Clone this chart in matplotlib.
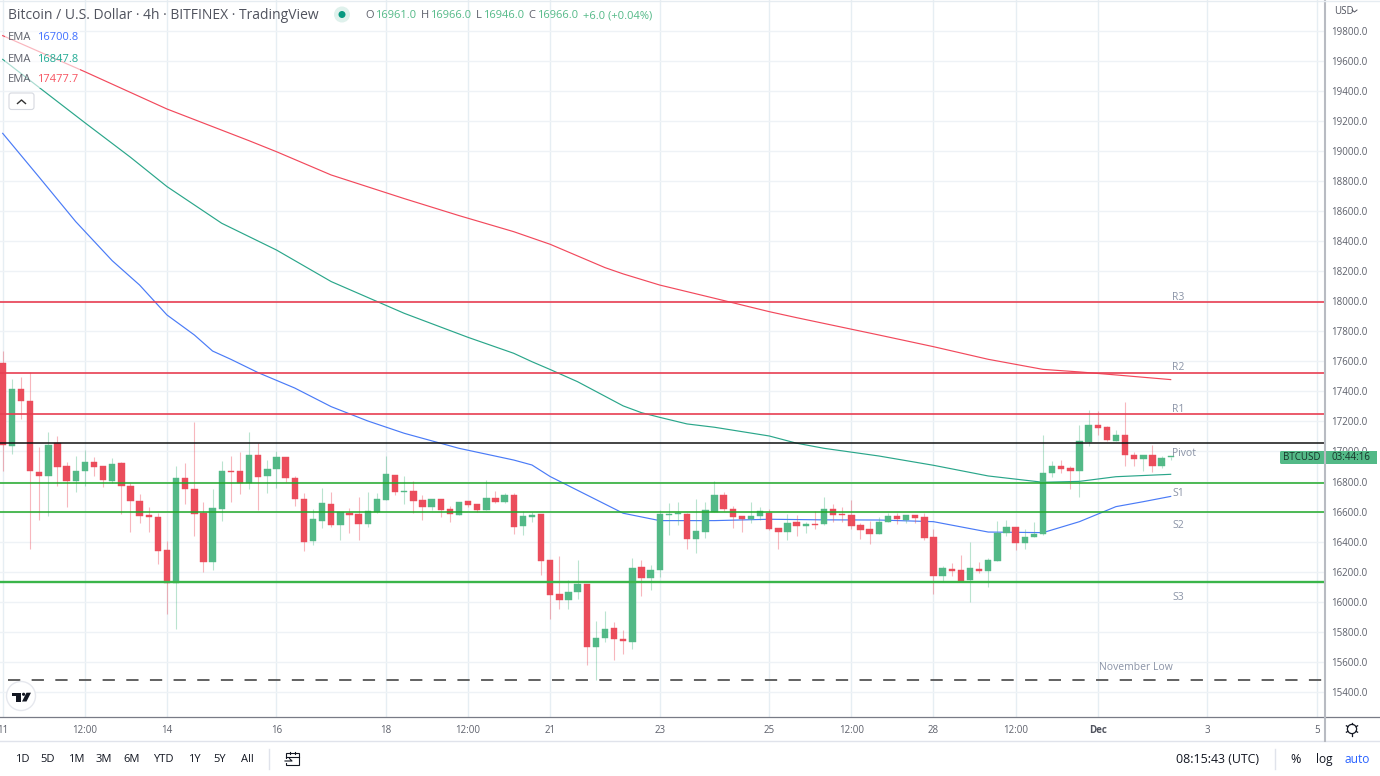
import matplotlib
matplotlib.use('Agg')
import matplotlib.pyplot as plt
from matplotlib.patches import Circle, FancyBboxPatch, Polygon, Rectangle

plt.rcParams['font.family'] = ['Open Sans', 'DejaVu Sans']

# candles, 4h bars
opens = [17586, 17039, 17413, 17336, 16864, 16839, 17056, 16906, 16806, 16872, 16930, 16901, 16806, 16923, 16770, 16671,
         16578, 16562, 16343, 16123, 16821, 16753, 16593, 16263, 16620, 16870, 16872, 16788, 16977, 16835, 16883, 16963,
         16824, 16686, 16405, 16540, 16651, 16511, 16593, 16584, 16520, 16595, 16677, 16846, 16730, 16739, 16677, 16628,
         16682, 16615, 16577, 16668, 16648, 16611, 16691, 16664, 16710, 16504, 16566, 16582, 16276, 16054, 16012, 16065,
         16119, 15702, 15759, 15824, 15751, 15735, 16232, 16156, 16212, 16580, 16582, 16584, 16418, 16467, 16595, 16710,
         16617, 16571, 16549, 16568, 16593, 16491, 16462, 16531, 16504, 16520, 16515, 16617, 16584, 16577, 16511, 16484,
         16451, 16529, 16571, 16544, 16577, 16562, 16431, 16172, 16218, 16209, 16145, 16218, 16207, 16274, 16460, 16495,
         16393, 16433, 16449, 16857, 16906, 16888, 16872, 17061, 17178, 17161, 17072, 17107, 16977, 16950, 16977, 16901,
         16961]
highs = [17671, 17480, 17498, 17531, 17032, 17130, 17103, 16930, 16970, 17010, 16966, 16903, 16957, 16930, 16793, 16717,
         16629, 16593, 16405, 16906, 16926, 17196, 16662, 16753, 16939, 16970, 16997, 17130, 17054, 16943, 17003, 16966,
         16837, 16722, 16620, 16755, 16733, 16595, 16622, 16699, 16730, 16722, 16970, 16846, 16837, 16801, 16708, 16682,
         16682, 16637, 16664, 16673, 16648, 16810, 16737, 16726, 16722, 16602, 16595, 16584, 16278, 16305, 16145, 16278,
         16119, 15870, 15939, 15866, 15813, 16292, 16278, 16243, 16611, 16655, 16664, 16588, 16682, 16664, 16804, 16730,
         16637, 16571, 16666, 16628, 16615, 16491, 16582, 16577, 16533, 16602, 16695, 16650, 16633, 16677, 16522, 16535,
         16562, 16593, 16593, 16577, 16577, 16593, 16482, 16238, 16260, 16311, 16396, 16267, 16289, 16538, 16544, 16495,
         16482, 16533, 17110, 16937, 16941, 16906, 17176, 17276, 17269, 17169, 17143, 17331, 16994, 16977, 17041, 16972,
         16966]
lows = [16872, 16983, 17216, 16351, 16544, 16571, 16773, 16633, 16731, 16773, 16837, 16766, 16788, 16584, 16464, 16527,
        16464, 16252, 15917, 15817, 16649, 16438, 16198, 16212, 16538, 16664, 16717, 16748, 16611, 16726, 16757, 16795,
        16637, 16340, 16380, 16491, 16495, 16411, 16460, 16411, 16500, 16593, 16677, 16713, 16651, 16593, 16544, 16611,
        16562, 16533, 16575, 16628, 16597, 16611, 16660, 16660, 16451, 16444, 16531, 16178, 15888, 15950, 15950, 16017,
        15582, 15480, 15733, 15613, 15653, 15686, 16039, 16079, 16167, 16444, 16511, 16351, 16322, 16424, 16595, 16606,
        16491, 16462, 16522, 16544, 16478, 16351, 16411, 16440, 16455, 16482, 16513, 16533, 16533, 16482, 16418, 16384,
        16451, 16529, 16517, 16526, 16526, 16411, 16052, 16132, 16172, 16134, 15997, 16194, 16101, 16274, 16438, 16345,
        16351, 16433, 16444, 16828, 16859, 16748, 16700, 17036, 17110, 17072, 17072, 16903, 16906, 16870, 16864, 16890,
        16946]
closes = [17043, 17416, 17336, 16870, 16837, 17043, 16899, 16806, 16872, 16930, 16897, 16810, 16919, 16773, 16673, 16573,
          16564, 16340, 16123, 16821, 16750, 16582, 16263, 16624, 16872, 16864, 16788, 16977, 16833, 16883, 16963, 16821,
          16686, 16400, 16549, 16655, 16509, 16595, 16580, 16520, 16602, 16682, 16850, 16730, 16737, 16671, 16628, 16682,
          16611, 16582, 16664, 16644, 16611, 16691, 16664, 16710, 16500, 16571, 16575, 16274, 16045, 16012, 16065, 16119,
          15702, 15757, 15819, 15753, 15740, 16227, 16156, 16212, 16582, 16584, 16593, 16416, 16471, 16611, 16710, 16615,
          16566, 16549, 16571, 16602, 16484, 16462, 16522, 16504, 16517, 16513, 16617, 16580, 16577, 16504, 16478, 16451,
          16533, 16571, 16549, 16577, 16557, 16427, 16172, 16223, 16205, 16141, 16223, 16205, 16278, 16460, 16495, 16393,
          16433, 16449, 16857, 16906, 16886, 16872, 17070, 17178, 17156, 17074, 17107, 16974, 16950, 16977, 16901, 16959,
          16966]

ema_red_idx = [0, 9, 18, 27, 30, 36, 44, 50, 56, 60, 66, 68, 72, 78, 84, 87, 96, 102, 108, 114, 118, 122, 128]
ema_red = [19766, 19526, 19278, 19067, 18994, 18839, 18682, 18569, 18462, 18378, 18223, 18181, 18107, 18019, 17930, 17890,
           17775, 17697, 17613, 17546, 17529, 17509, 17478]
ema_green_idx = [0, 9, 14, 18, 24, 30, 36, 44, 51, 56, 58, 60, 63, 68, 70, 72, 75, 78, 84, 87, 90, 96, 102, 108, 114, 118, 122, 128]
ema_green = [19608, 19187, 18957, 18762, 18518, 18340, 18130, 17919, 17759, 17653, 17597, 17545, 17464, 17303, 17258, 17227,
             17183, 17161, 17103, 17055, 17021, 16970, 16908, 16837, 16795, 16801, 16832, 16848]
ema_blue_idx = [0, 4, 8, 12, 15, 18, 21, 23, 25, 28, 32, 36, 40, 44, 50, 56, 58, 60, 64, 68, 72, 78, 84, 90, 96, 102, 108, 114, 118, 122, 125, 128]
ema_blue = [19116, 18824, 18529, 18269, 18107, 17908, 17775, 17668, 17613, 17524, 17422, 17298, 17203, 17121, 17021, 16943,
            16910, 16833, 16711, 16589, 16540, 16540, 16549, 16545, 16544, 16533, 16464, 16460, 16533, 16633, 16666, 16701]

# pivot levels
level_r3 = 17991
level_r2 = 17522
level_r1 = 17251
level_pivot = 17059
level_s1 = 16790
level_s2 = 16598
level_s3 = 16132
november_low = 15483

price_ticks = list(range(15400, 20000, 200))
time_tick_idx = [0, 9, 18, 30, 42, 51, 60, 72, 84, 93, 102, 111, 120, 132, 144]
time_tick_labels = ['11', '12:00', '14', '16', '18', '12:00', '21', '23', '25', '12:00', '28', '12:00', 'Dec', '3', '5']

W, H = 1380, 776
UP = '#53b987'
DOWN = '#eb4d5c'
GREY = '#5d606b'
LABEL = '#8a93a6'

fig = plt.figure(figsize=(W / 100, H / 100), dpi=100, facecolor='white')

# main pane, 1325 wide and down to y=716
ax = fig.add_axes([0, (H - 716.5) / H, 1325 / W, 716.5 / H])
ax.set_xlim(-0.296, 144.91)
ax.set_ylim(15237, 20003)
for s in ax.spines.values():
    s.set_visible(False)
ax.yaxis.tick_right()
ax.set_yticks(price_ticks)
ax.set_yticklabels(['%.1f' % p for p in price_ticks])
ax.set_xticks(time_tick_idx)
ax.set_xticklabels(time_tick_labels)
ax.tick_params(axis='both', length=0, labelsize=7, labelcolor=GREY)
ax.tick_params(axis='y', pad=4.4)
ax.tick_params(axis='x', pad=5.8)
ax.get_xticklabels()[12].set_fontweight('bold')
ax.get_xticklabels()[12].set_color('#50535e')
ax.grid(axis='y', color='#eef2f6', lw=1, zorder=0)
ax.grid(axis='x', color='#e6eef3', lw=1, zorder=0)
ax.set_axisbelow(True)

# ema lines first, candles and levels on top
ax.plot(ema_blue_idx, ema_blue, color='#4a7bf7', lw=0.85, zorder=2)
ax.plot(ema_green_idx, ema_green, color='#2aa68a', lw=0.85, zorder=2)
ax.plot(ema_red_idx, ema_red, color='#f2495c', lw=0.85, zorder=2)

for i in range(len(opens)):
    col = UP if closes[i] >= opens[i] else DOWN
    ax.vlines(i, lows[i], highs[i], color=col, lw=0.8, alpha=0.4, zorder=3)
    top = max(opens[i], closes[i])
    bot = min(opens[i], closes[i])
    ax.bar(i, max(top - bot, 6), bottom=bot, width=0.7, color=col, edgecolor=col, lw=0.3, zorder=4)

ax.axhline(level_r3, color='#e83e52', lw=1.2, zorder=5)
ax.axhline(level_r2, color='#e83e52', lw=1.2, zorder=5)
ax.axhline(level_r1, color='#e83e52', lw=1.2, zorder=5)
ax.axhline(level_pivot, color='#111111', lw=1.1, zorder=5)
ax.axhline(level_s1, color='#1fa828', lw=1.1, zorder=5)
ax.axhline(level_s2, color='#1fa828', lw=1.1, zorder=5)
ax.axhline(level_s3, color='#3ab54a', lw=1.7, zorder=5)
ax.plot([0.6, 144.91], [november_low, november_low], color='#555555', lw=1.3, dashes=(6.8, 6.3), zorder=5)

# everything else is window chrome, in screen pixels
ui = fig.add_axes([0, 0, 1, 1], facecolor='none')
ui.set_xlim(0, W)
ui.set_ylim(H, 0)
ui.axis('off')

ui.plot([0, W], [716.5, 716.5], color='#787b86', lw=0.9)
ui.plot([0, W], [741, 741], color='#e0e3eb', lw=1)
ui.plot([1325, 1325], [0, 741], color='#b8bbc2', lw=1.5)
ui.plot([0, W], [0.8, 0.8], color='#e6ecf1', lw=1)

# header
ui.text(8, 15.5, 'Bitcoin / U.S. Dollar · 4h · BITFINEX · TradingView', fontsize=10, color='#50535e', va='center')
ui.add_patch(Circle((342, 14.5), 8, fc='#dff1ec', ec='none'))
ui.add_patch(Circle((342, 14.5), 3.5, fc='#089981', ec='none'))
ohlc = [(365, 375, 'O', '16961.0'), (421, 430, 'H', '16966.0'), (476, 483, 'L', '16946.0'), (528, 537, 'C', '16966.0')]
for x0, x1, k, v in ohlc:
    ui.text(x0, 15.5, k, fontsize=8, color=GREY, va='center')
    ui.text(x1, 15.5, v, fontsize=8, color=UP, va='center')
ui.text(583, 15.5, '+6.0 (+0.04%)', fontsize=8, color=UP, va='center')

# legend block
ui.add_patch(Rectangle((5, 27), 75, 61, fc='white', ec='none', alpha=0.6))
ema_rows = [(36, '16700.8', '#3f6fff'), (58, '16847.8', '#22ab94'), (79, '17477.7', '#f7525f')]
for y0, v, c in ema_rows:
    ui.text(8, y0 + 1, 'EMA', fontsize=8, color=GREY, va='center')
    ui.text(37, y0 + 1, v, fontsize=8, color=c, va='center')
ui.add_patch(FancyBboxPatch((9, 93), 25, 16.5, boxstyle='round,pad=0,rounding_size=2.5', fc='white', ec='#d6d9e0', lw=0.8))
ui.plot([17.5, 21.5, 25.5], [103.5, 100, 103.5], color='#333333', lw=1)

# level captions
for y0, s in [(298, 'R3'), (368, 'R2'), (410, 'R1'), (454, 'Pivot'), (494, 'S1'), (525, 'S2'), (598, 'S3')]:
    ui.text(1172, y0, s, fontsize=7.5, color=LABEL, va='center')
ui.text(1099, 667.5, 'November Low', fontsize=7.5, color=LABEL, va='center')

# last price badge
ui.add_patch(FancyBboxPatch((1280, 451), 46, 13, boxstyle='round,pad=0,rounding_size=1.5', fc=UP, ec='none'))
ui.add_patch(Rectangle((1326, 451), 51, 13, fc=UP, ec='none'))
ui.text(1302, 458, 'BTCUSD', fontsize=7, color='#17352a', ha='center', va='center')
ui.text(1351, 458, '03:44:16', fontsize=7, color='#17352a', ha='center', va='center')

ui.text(1334, 11.5, 'USD', fontsize=7, color='#50535e', va='center')
ui.plot([1352, 1354.5, 1357], [10, 12, 10], color='#50535e', lw=0.7)

# logo
ui.add_patch(Circle((21, 696), 14.5, fc='white', ec='#e6e8ee', lw=1))
ui.add_patch(Polygon([(11.7, 692.7), (21, 692.7), (21, 701.5), (16, 701.5), (16, 695.6), (11.7, 695.6)], fc='#131722', ec='none'))
ui.add_patch(Circle((23.6, 694.3), 1.6, fc='#131722', ec='none'))
ui.add_patch(Polygon([(26.5, 692.7), (31, 692.7), (26.5, 701.5), (22, 701.5)], fc='#131722', ec='none'))

# bottom toolbar
ranges = [(22, '1D'), (48, '5D'), (76, '1M'), (104, '3M'), (132, '6M'), (163, 'YTD'), (194, '1Y'), (220, '5Y'), (247, 'All')]
for x0, s in ranges:
    ui.text(x0, 759.5, s, fontsize=8, color='#131722', ha='center', va='center')
ui.plot([269, 269], [749, 769], color='#e0e3eb', lw=1)
ui.plot([1275, 1275], [749, 769], color='#e0e3eb', lw=1)
ui.add_patch(Rectangle((286, 753), 13, 12, fc='none', ec='#131722', lw=0.8))
ui.plot([286, 299], [756.5, 756.5], color='#131722', lw=0.8)
ui.plot([290, 290], [751.5, 754], color='#131722', lw=0.8)
ui.plot([295, 295], [751.5, 754], color='#131722', lw=0.8)
ui.add_patch(Rectangle((283, 759), 9, 4, fc='white', ec='none'))
ui.plot([285, 292, 289.5], [761, 761, 758.5], color='#131722', lw=0.8)
ui.text(1218, 759.5, '08:15:43 (UTC)', fontsize=8.9, color='#131722', ha='center', va='center')
ui.text(1296, 759.5, '%', fontsize=9, color='#131722', ha='center', va='center')
ui.text(1324, 759.5, 'log', fontsize=8.6, color='#131722', ha='center', va='center')
ui.text(1357, 759.5, 'auto', fontsize=8.6, color='#2962ff', ha='center', va='center')

# settings gear
ui.add_patch(Circle((1352, 729), 4.6, fc='none', ec='#131722', lw=0.9))
for dx, dy in [(0, -6.5), (0, 6.5), (5.6, -3.2), (-5.6, -3.2), (5.6, 3.2), (-5.6, 3.2)]:
    ui.plot([1352 + dx * 0.75, 1352 + dx], [729 + dy * 0.75, 729 + dy], color='#131722', lw=0.9)

fig.savefig('out.png', dpi=100)
